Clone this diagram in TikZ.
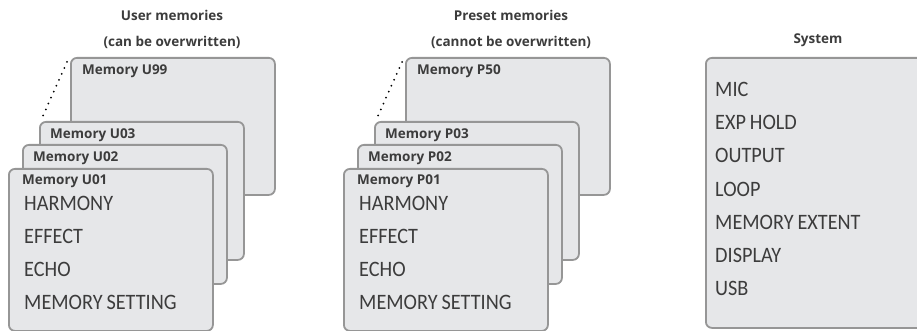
\documentclass[tikz,border=0pt]{standalone}
\usepackage{fontspec}
\setmainfont{Carlito}[FakeStretch=0.92, WordSpace=0.85]
\newfontfamily\headfont{Open Sans}
\usetikzlibrary{calc}
\definecolor{CardFill}{RGB}{230,231,233}
\definecolor{CardEdge}{RGB}{150,150,150}
\definecolor{InkGray}{RGB}{60,60,60}

\begin{document}
\begin{tikzpicture}[x=1pt, y=-1pt,
    memcard/.style={draw=CardEdge, fill=CardFill, line width=1.8pt, rounded corners=6pt,
      inner sep=0pt, anchor=north west, minimum width=204pt},
    cardname/.style={anchor=base west, inner sep=0pt, text=InkGray, font=\headfont\fontsize{13.5}{16}\selectfont\bfseries},
    heading/.style={anchor=base, inner sep=0pt, text=InkGray, font=\headfont\fontsize{13.5}{16}\selectfont\bfseries},
    entry/.style={anchor=base west, inner sep=0pt, text=InkGray, font=\fontsize{22}{24}\selectfont}]
    \useasboundingbox (0,0) rectangle (917,331);

    % headings
    \node[heading] (userhead) at (172,21) {User memories};
    \node[heading] (usernote) at (172,47) {(can be overwritten)};
    \node[heading] (presethead) at (511,21) {Preset memories};
    \node[heading] (presetnote) at (511,47) {(cannot be overwritten)};
    \node[heading] (syshead) at (818,44) {System};

    % memory stacks
    \foreach \pre/\last/\dx in {U/99/0, P/50/335} {
        \node[memcard, minimum height=137pt] (\pre\last) at (70+\dx,57) {};
        \node[memcard, minimum height=138pt] (\pre03) at (39+\dx,121) {};
        \node[memcard, minimum height=139pt] (\pre02) at (22+\dx,144) {};
        \node[memcard, minimum height=162pt] (\pre01) at (8+\dx,168) {};
        \draw[line width=2pt, line cap=round, dash pattern=on 0pt off 6.5pt]
            ([shift={(-3,5)}]\pre\last.north west) -- ([shift={(3,-3)}]\pre03.north west);
        \node[cardname] at ([shift={(12,18)}]\pre\last.north west) {Memory \pre\last};
        \node[cardname] at ([shift={(11,18)}]\pre03.north west) {Memory \pre03};
        \node[cardname] at ([shift={(11,18)}]\pre02.north west) {Memory \pre02};
        \node[cardname] at ([shift={(14,16)}]\pre01.north west) {Memory \pre01};
        \foreach \item [count=\i] in {HARMONY, EFFECT, ECHO, MEMORY SETTING}
            \node[entry] at ([shift={(16,9+33*\i)}]\pre01.north west) {\item};
    }

    % system settings
    \node[memcard, minimum width=225pt, minimum height=270pt] (system) at (705,57) {};
    \foreach \item [count=\i] in {MIC, EXP HOLD, OUTPUT, LOOP, MEMORY EXTENT, DISPLAY, USB}
        \node[entry] at ([shift={(10,7+33*\i)}]system.north west) {\item};
\end{tikzpicture}
\end{document}
